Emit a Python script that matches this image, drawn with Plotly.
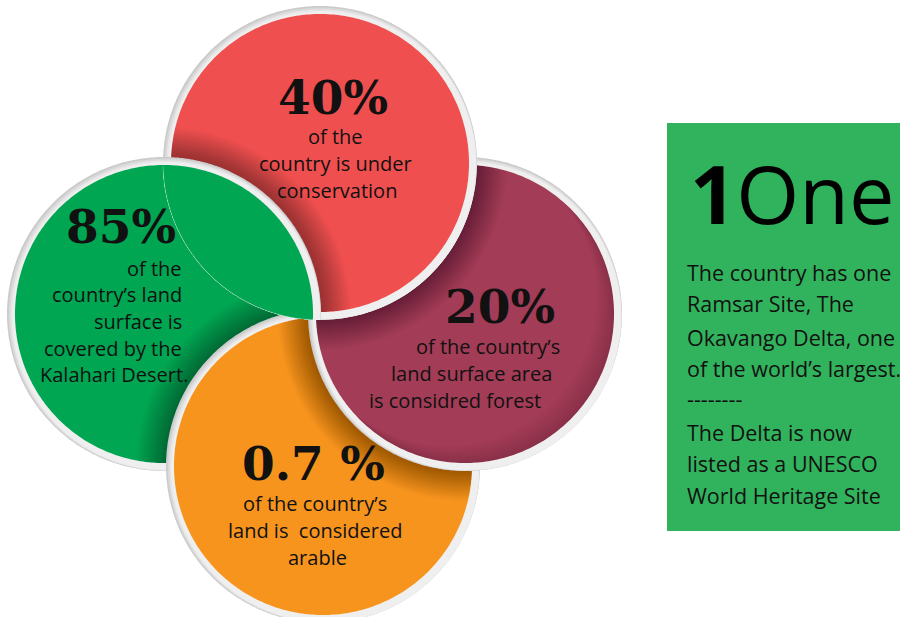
import numpy as np
import plotly.graph_objects as go

# ---------------- content ----------------
stat_values = ["40%", "85%", "20%", "0.7 %"]
stat_lines = [
    ["of the", "country is under", "conservation"],
    ["of the", "country’s land", "surface is", "covered by the", "Kalahari Desert."],
    ["of the country’s", "land surface area", "is considred forest"],
    ["of the country’s", "land is  considered", "arable"],
]
circle_colors = ["#F04F4F", "#00A652", "#A33C56", "#F7941E"]

box_number = "1"
box_word = "One"
box_lines = [
    "The country has one",
    "Ramsar Site, The",
    "Okavango Delta, one",
    "of the world’s largest.",
    "--------",
    "The Delta is now",
    "listed as a UNESCO",
    "World Heritage Site",
]
box_color = "#31B35D"

# ---------------- layout geometry (pixels, y down) ----------------
W, H = 900, 617
R_OUT, R_IN = 157, 149
centers = [(320, 163), (164, 314), (465, 314), (323, 466)]  # red, green, maroon, orange
RED, GREEN, MAROON, ORANGE = 0, 1, 2, 3

# per-circle text placement: headline (x, y, anchor), then body lines
headline_pos = [(333, 97, "center"), (121, 226, "center"), (500, 306, "center"), (313, 463, "center")]
body_pos = [
    [(335, 136, "center"), (335, 163, "center"), (337, 190, "center")],
    [(184, 268, "right"), (184, 294, "right"), (184, 321, "right"), (184, 348, "right"), (190, 374, "right")],
    [(488, 346, "center"), (471, 373, "center"), (455, 400, "center")],
    [(315, 503, "center"), (315, 530, "center"), (317, 557, "center")],
]

BODY_FONT = "Open Sans"
NUM_FONT = "DejaVu Serif"
INK = "#111111"

RING_LAYERS = [(0, "#cbcbcb"), (1, "#d9d9d9"), (2, "#e6e6e6"), (3, "#efefef")]


def circle_xy(c, r, n=360):
    t = np.linspace(0, 2 * np.pi, n, endpoint=False)
    return c[0] + r * np.cos(t), c[1] + r * np.sin(t)


def to_path(xs, ys, close=True):
    pts = " L ".join(f"{x:.1f},{y:.1f}" for x, y in zip(xs, ys))
    return "M " + pts + (" Z" if close else "")


def lens_xy(c1, r1, c2, r2, n=900):
    x1, y1 = circle_xy(c1, r1, n)
    x2, y2 = circle_xy(c2, r2, n)
    k1 = np.hypot(x1 - c2[0], y1 - c2[1]) <= r2
    k2 = np.hypot(x2 - c1[0], y2 - c1[1]) <= r1
    xs = np.concatenate([x1[k1], x2[k2]])
    ys = np.concatenate([y1[k1], y2[k2]])
    if len(xs) < 3:
        return None
    mx, my = xs.mean(), ys.mean()
    order = np.argsort(np.arctan2(ys - my, xs - mx))
    return xs[order], ys[order]


def contiguous(mask):
    """indices of a circular boolean mask, ordered as one continuous run"""
    idx = np.where(mask)[0]
    if len(idx) == 0 or len(idx) == len(mask):
        return idx
    d = np.diff(idx)
    if np.any(d > 1):
        g = np.argmax(d)
        idx = np.concatenate([idx[g + 1:], idx[:g + 1]])
    return idx


def crescent_xy(c, r, shift, n=900):
    """part of circle (c, r) lying outside the same circle moved by `shift`"""
    c2 = (c[0] + shift[0], c[1] + shift[1])
    x1, y1 = circle_xy(c, r, n)
    x2, y2 = circle_xy(c2, r, n)
    a = contiguous(np.hypot(x1 - c2[0], y1 - c2[1]) > r)
    b = contiguous(np.hypot(x2 - c[0], y2 - c[1]) <= r)
    ax_, ay_ = x1[a], y1[a]
    bx, by = x2[b], y2[b]
    if np.hypot(bx[0] - ax_[-1], by[0] - ay_[-1]) > np.hypot(bx[-1] - ax_[-1], by[-1] - ay_[-1]):
        bx, by = bx[::-1], by[::-1]
    return np.concatenate([ax_, bx]), np.concatenate([ay_, by])


shapes = []


def add_path(path, fill):
    shapes.append(dict(type="path", xref="x", yref="y", path=path,
                       fillcolor=fill, line=dict(width=0), layer="above"))


def ring_center(c, k):
    d = k / np.sqrt(2)
    return (c[0] + d, c[1] + d)


def full_circle(i):
    c = centers[i]
    for k, col in RING_LAYERS:
        add_path(to_path(*circle_xy(ring_center(c, k), R_OUT - k)), col)
    add_path(to_path(*circle_xy(c, R_IN)), circle_colors[i])


def shadow(under, over, reach=30, alpha=0.012):
    for s in range(1, reach + 1):
        xy = lens_xy(centers[under], R_IN, centers[over], R_OUT + s)
        if xy is not None:
            add_path(to_path(*xy), f"rgba(40,0,0,{alpha})")


def edge_shade(i, direction, steps=12, alpha=0.011):
    ux, uy = direction
    for s in range(1, steps + 1):
        d = 2.0 * s
        add_path(to_path(*crescent_xy(centers[i], R_IN, (-ux * d, -uy * d))), f"rgba(30,0,10,{alpha})")


# pinwheel stacking: green > red > maroon > orange > green
full_circle(GREEN)
shadow(GREEN, ORANGE)
full_circle(ORANGE)
shadow(ORANGE, MAROON)
full_circle(MAROON)
edge_shade(MAROON, (0.7071, 0.7071))
shadow(MAROON, RED)
full_circle(RED)
shadow(RED, GREEN)

# green laid back over the red where they overlap
for k, col in RING_LAYERS:
    xy = lens_xy(ring_center(centers[GREEN], k), R_OUT - k, centers[RED], R_OUT)
    add_path(to_path(*xy), col)
add_path(to_path(*lens_xy(centers[GREEN], R_IN, centers[RED], R_OUT)), circle_colors[GREEN])

# faint trace of the red rim seen through the green
ax, ay = circle_xy(centers[RED], R_OUT, 1440)
run = contiguous(np.hypot(ax - centers[GREEN][0], ay - centers[GREEN][1]) <= R_IN - 1)
if len(run) > 1:
    shapes.append(dict(type="path", xref="x", yref="y", path=to_path(ax[run], ay[run], close=False),
                       line=dict(color="rgba(255,255,255,0.28)", width=0.8), layer="above"))

# info box on the right
shapes.append(dict(type="rect", xref="x", yref="y", x0=667, x1=900, y0=123, y1=531,
                   fillcolor=box_color, line=dict(width=0), layer="below"))

annotations = []
for i in range(4):
    hx, hy, ha = headline_pos[i]
    annotations.append(dict(x=hx, y=hy, text=f"<b>{stat_values[i]}</b>", xanchor=ha, yanchor="middle",
                            showarrow=False, font=dict(family=NUM_FONT, size=47, color=INK)))
    for line, (lx, ly, la) in zip(stat_lines[i], body_pos[i]):
        annotations.append(dict(x=lx, y=ly, text=line, xanchor=la, yanchor="middle", showarrow=False,
                                font=dict(family=BODY_FONT, size=20, color=INK)))

annotations.append(dict(x=688, y=192, text=f"<b>{box_number}</b>{box_word}", xanchor="left", yanchor="middle",
                        showarrow=False, font=dict(family=BODY_FONT, size=81, color="#000000")))
box_line_y = [272, 303, 337, 368, 398, 432, 463, 495]
for line, ly in zip(box_lines, box_line_y):
    annotations.append(dict(x=685, y=ly, text=line, xanchor="left", yanchor="middle", showarrow=False,
                            font=dict(family=BODY_FONT, size=21.5, color=INK)))

fig = go.Figure()
fig.add_trace(go.Scatter(x=[0, W], y=[0, H], mode="markers", marker=dict(opacity=0), hoverinfo="skip",
                         showlegend=False))
fig.update_layout(
    width=W, height=H, margin=dict(l=0, r=0, t=0, b=0),
    paper_bgcolor="white", plot_bgcolor="white",
    xaxis=dict(range=[0, W], visible=False, fixedrange=True),
    yaxis=dict(range=[H, 0], visible=False, fixedrange=True),
    shapes=shapes, annotations=annotations, showlegend=False,
)
fig.write_html("out.html", config={"displayModeBar": False})
